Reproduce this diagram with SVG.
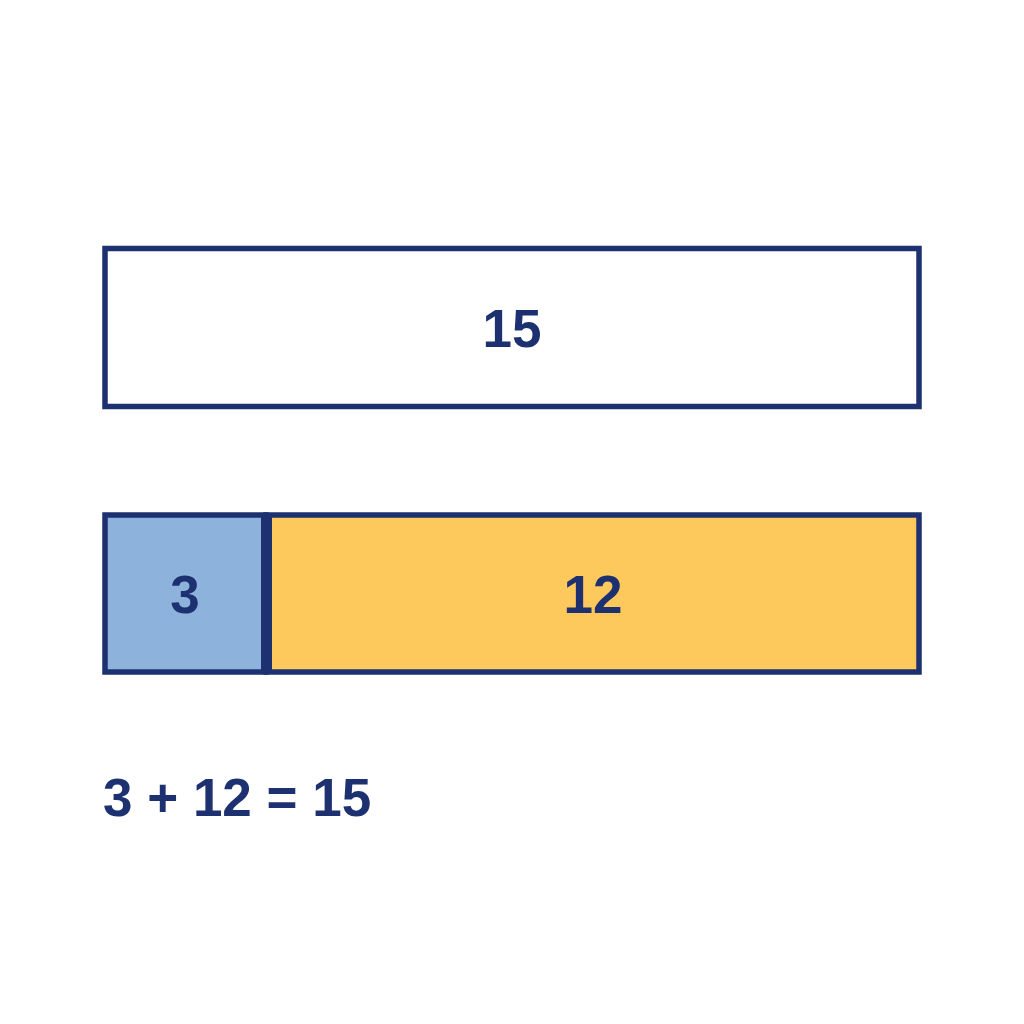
<svg xmlns="http://www.w3.org/2000/svg" width="1024" height="1024" viewBox="0 0 1024 1024">
<style>
.box{stroke:#1d3170;stroke-width:5.5}
.lbl{font-family:"Liberation Sans",Arial,sans-serif;font-weight:bold;font-size:53px;fill:#1d3170;text-anchor:middle}
</style>
<rect width="1024" height="1024" fill="#ffffff"/>
<g id="whole">
<rect class="box" x="105" y="248.5" width="814" height="158" fill="#ffffff"/>
<text class="lbl" x="512" y="347">15</text>
</g>
<g id="part3">
<rect class="box" x="105" y="515" width="161" height="157" fill="#8db3dd"/>
<text class="lbl" x="185" y="613">3</text>
</g>
<g id="part12">
<rect class="box" x="266" y="515" width="653" height="157" fill="#fdc85c"/>
<text class="lbl" x="593" y="613">12</text>
</g>
<line x1="266.5" y1="515" x2="266.5" y2="672" stroke="#1d3170" stroke-width="11"/>
<g id="equation">
<text class="lbl" x="103" y="816" style="text-anchor:start">3 + 12 = 15</text>
</g>
<g id="connectors"/>
</svg>
